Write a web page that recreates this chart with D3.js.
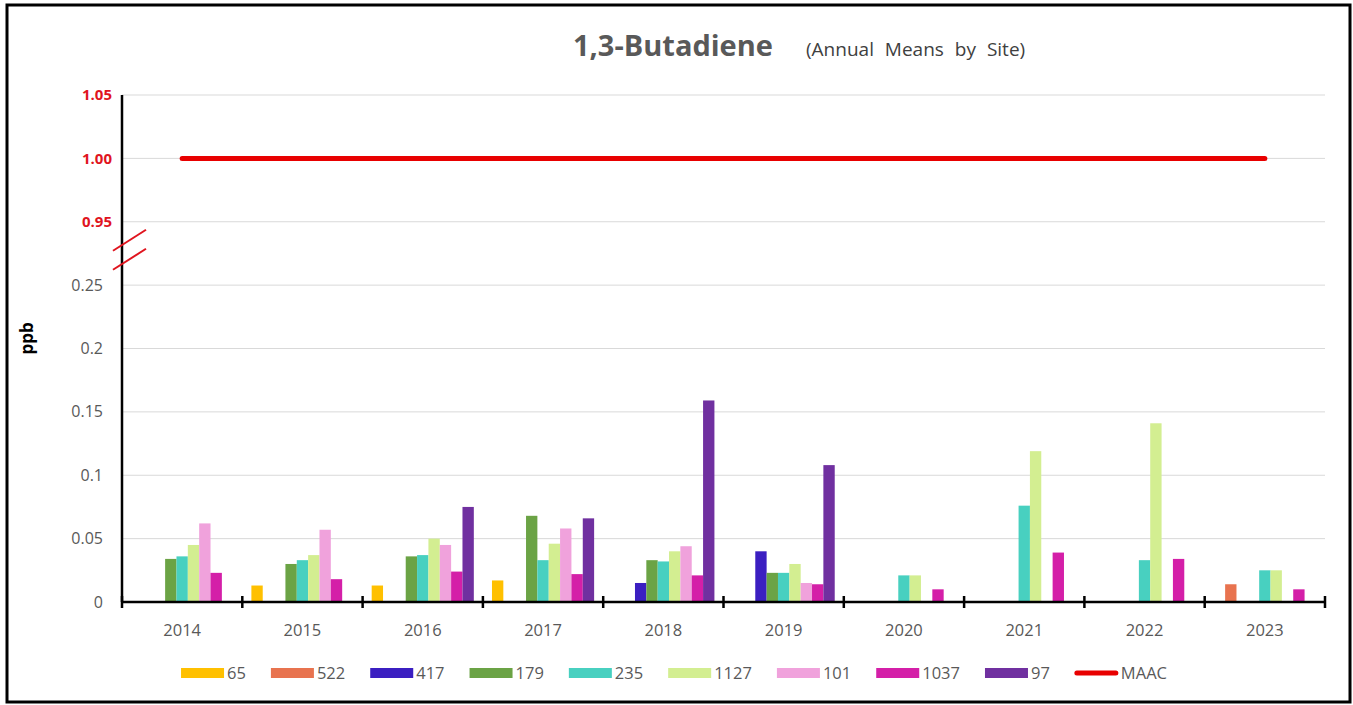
<!DOCTYPE html>
<meta charset="utf-8">
<script src="https://d3js.org/d3.v7.min.js"></script>
<style>
  body { margin: 0; background: #fff; }
  text { font-family: "Open Sans", "Liberation Sans", sans-serif; }
</style>
<div id="chart"></div>
<script>

// categories and series
var years = ["2014", "2015", "2016", "2017", "2018", "2019", "2020", "2021", "2022", "2023"];
var sites = ["65", "522", "417", "179", "235", "1127", "101", "1037", "97"];
var siteColors = ["#FFC000", "#E8734F", "#3B1FC1", "#6BA345", "#48D0C0", "#D3EE91", "#F0A2DC", "#D41FA8", "#7030A0"];

var s65   = [null, 0.013, 0.013, 0.017, null, null, null, null, null, null];
var s522  = [null, null, null, null, null, null, null, null, null, 0.014];
var s417  = [null, null, null, null, 0.015, 0.040, null, null, null, null];
var s179  = [0.034, 0.030, 0.036, 0.068, 0.033, 0.023, null, null, null, null];
var s235  = [0.036, 0.033, 0.037, 0.033, 0.032, 0.023, 0.021, 0.076, 0.033, 0.025];
var s1127 = [0.045, 0.037, 0.050, 0.046, 0.040, 0.030, 0.021, 0.119, 0.141, 0.025];
var s101  = [0.062, 0.057, 0.045, 0.058, 0.044, 0.015, null, null, null, null];
var s1037 = [0.023, 0.018, 0.024, 0.022, 0.021, 0.014, 0.010, 0.039, 0.034, 0.010];
var s97   = [null, null, 0.075, 0.066, 0.159, 0.108, null, null, null, null];
var maac  = [1.00, 1.00, 1.00, 1.00, 1.00, 1.00, 1.00, 1.00, 1.00, 1.00];

var seriesValues = [s65, s522, s417, s179, s235, s1127, s101, s1037, s97];

// y ticks, lower part and (broken) upper part
var lowTicks = [0, 0.05, 0.1, 0.15, 0.2, 0.25];
var lowTickLabels = ["0", "0.05", "0.1", "0.15", "0.2", "0.25"];
var highTicks = [0.95, 1.00, 1.05];
var highTickLabels = ["0.95", "1.00", "1.05"];

// set the dimensions and margins of the graph
var W = 1353, H = 705;
var margin = {top: 95, right: 28, bottom: 103, left: 122},
    width = W - margin.left - margin.right,
    height = H - margin.top - margin.bottom;

var svg = d3.select("#chart")
  .append("svg")
    .attr("width", W)
    .attr("height", H);

// outer frame
svg.append("rect")
  .attr("x", 7).attr("y", 5)
  .attr("width", W - 10).attr("height", H - 8)
  .attr("fill", "none")
  .attr("stroke", "#000")
  .attr("stroke-width", 3);

var g = svg.append("g")
  .attr("transform", "translate(" + margin.left + "," + margin.top + ")");

// broken axis: values above the break are shifted down
var breakShift = 0.65;
function disp(v) { return v > 0.5 ? v - breakShift : v; }

var y = d3.scaleLinear()
  .domain([0, disp(1.05)])
  .range([height, 0]);

var x0 = d3.scaleBand()
  .domain(years)
  .range([0, width])
  .padding(0);

var x1 = d3.scaleBand()
  .domain(sites)
  .range([0, x0.bandwidth()])
  .paddingInner(0)
  .paddingOuter(0.8);

// gridlines
var allTicks = lowTicks.concat(highTicks).filter(function(d) { return d !== 0; });
g.selectAll(".grid")
  .data(allTicks)
  .enter()
  .append("line")
    .attr("x1", 0)
    .attr("x2", width)
    .attr("y1", function(d) { return y(disp(d)); })
    .attr("y2", function(d) { return y(disp(d)); })
    .attr("stroke", "#d9d9d9")
    .attr("stroke-width", 1);

// bars
var bars = [];
seriesValues.forEach(function(vals, si) {
  vals.forEach(function(v, yi) {
    if (v !== null) bars.push({site: sites[si], year: years[yi], value: v, color: siteColors[si]});
  });
});

g.selectAll(".bar")
  .data(bars)
  .enter()
  .append("rect")
    .attr("x", function(d) { return x0(d.year) + x1(d.site); })
    .attr("y", function(d) { return y(d.value); })
    .attr("width", x1.bandwidth())
    .attr("height", function(d) { return y(0) - y(d.value); })
    .attr("fill", function(d) { return d.color; });

// MAAC line
var line = d3.line()
  .x(function(d, i) { return x0(years[i]) + x0.bandwidth() / 2; })
  .y(function(d) { return y(disp(d)); });

g.append("path")
  .datum(maac)
  .attr("d", line)
  .attr("fill", "none")
  .attr("stroke", "#E80000")
  .attr("stroke-width", 5)
  .attr("stroke-linecap", "round");

// y axis line
g.append("line")
  .attr("x1", 0).attr("x2", 0)
  .attr("y1", 0).attr("y2", height)
  .attr("stroke", "#000")
  .attr("stroke-width", 2.5);

// x axis line with ticks at category boundaries
g.append("line")
  .attr("x1", 0).attr("x2", width)
  .attr("y1", height).attr("y2", height)
  .attr("stroke", "#000")
  .attr("stroke-width", 2.5);

var bounds = years.map(function(d) { return x0(d); }).concat([width]);
g.selectAll(".xtick")
  .data(bounds)
  .enter()
  .append("line")
    .attr("x1", function(d) { return d; })
    .attr("x2", function(d) { return d; })
    .attr("y1", height - 6)
    .attr("y2", height + 6)
    .attr("stroke", "#000")
    .attr("stroke-width", 2.5);

// x labels
g.selectAll(".xlab")
  .data(years)
  .enter()
  .append("text")
    .attr("x", function(d) { return x0(d) + x0.bandwidth() / 2; })
    .attr("y", height + 34)
    .attr("text-anchor", "middle")
    .attr("fill", "#595959")
    .style("font-size", "16.5px")
    .text(function(d) { return d; });

// y labels
g.selectAll(".ylow")
  .data(lowTicks)
  .enter()
  .append("text")
    .attr("x", -19)
    .attr("y", function(d) { return y(d); })
    .attr("dy", "0.35em")
    .attr("text-anchor", "end")
    .attr("fill", "#595959")
    .style("font-size", "16px")
    .text(function(d, i) { return lowTickLabels[i]; });

g.selectAll(".yhigh")
  .data(highTicks)
  .enter()
  .append("text")
    .attr("x", -10)
    .attr("y", function(d) { return y(disp(d)); })
    .attr("dy", "0.35em")
    .attr("text-anchor", "end")
    .attr("fill", "#E0141E")
    .style("font-size", "15px")
    .style("font-weight", "bold")
    .text(function(d, i) { return highTickLabels[i]; });

// break marks on the y axis
var breakMarks = [0.935, 0.27];
g.selectAll(".brk")
  .data(breakMarks)
  .enter()
  .append("line")
    .attr("x1", -9)
    .attr("x2", 24)
    .attr("y1", function(d) { return y(disp(d)) + 10; })
    .attr("y2", function(d) { return y(disp(d)) - 11; })
    .attr("stroke", "#E0141E")
    .attr("stroke-width", 2);

// y axis title
svg.append("text")
  .attr("transform", "translate(33," + (margin.top + height * 0.48) + ")rotate(-90)")
  .attr("text-anchor", "middle")
  .attr("fill", "#000")
  .style("font-size", "17px")
  .style("font-weight", "bold")
  .text("ppb");

// title
svg.append("text")
  .attr("x", 573)
  .attr("y", 56)
  .attr("fill", "#595959")
  .style("font-size", "29px")
  .style("font-weight", "bold")
  .text("1,3-Butadiene");

svg.append("text")
  .attr("x", 806)
  .attr("y", 56)
  .attr("fill", "#404040")
  .style("font-size", "19px")
  .style("word-spacing", "6px")
  .text("(Annual Means by Site)");

// legend
var legendItems = sites.map(function(s, i) { return {name: s, color: siteColors[i], type: "rect"}; });
legendItems.push({name: "MAAC", color: "#E80000", type: "line"});

var legend = svg.append("g");
var lx = 0, swW = 43, gap = 25, legendY = 673;
legendItems.forEach(function(d) {
  var item = legend.append("g").attr("transform", "translate(" + lx + ",0)");
  if (d.type === "rect") {
    item.append("rect")
      .attr("x", 0).attr("y", legendY - 5)
      .attr("width", swW).attr("height", 10)
      .attr("fill", d.color);
  } else {
    item.append("line")
      .attr("x1", 2).attr("x2", swW - 2)
      .attr("y1", legendY).attr("y2", legendY)
      .attr("stroke", d.color)
      .attr("stroke-width", 5)
      .attr("stroke-linecap", "round");
  }
  var t = item.append("text")
    .attr("x", swW + 3)
    .attr("y", legendY)
    .attr("dy", "0.35em")
    .attr("fill", "#595959")
    .style("font-size", "16.5px")
    .text(d.name);
  lx += swW + 3 + t.node().getComputedTextLength() + gap;
});
lx -= gap;
legend.attr("transform", "translate(" + (674 - lx / 2) + ",0)");

</script>
